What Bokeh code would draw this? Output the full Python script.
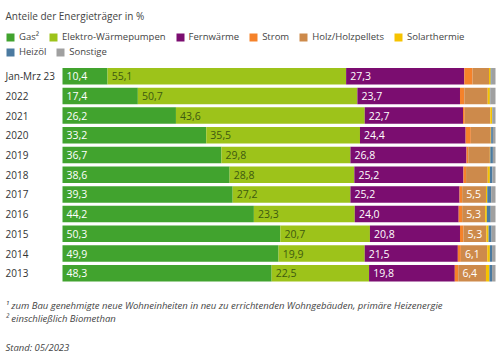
from bokeh.plotting import figure
from bokeh.models import ColumnDataSource, Range1d, Label, Legend, LegendItem
from bokeh.core.properties import value
from bokeh.embed import file_html
from bokeh.resources import INLINE

# ---------------- data ----------------
categories = ["Jan-Mrz 23", "2022", "2021", "2020", "2019", "2018",
              "2017", "2016", "2015", "2014", "2013"]
gas      = [10.4, 17.4, 26.2, 33.2, 36.7, 38.6, 39.3, 44.2, 50.3, 49.9, 48.3]
elektro  = [55.1, 50.7, 43.6, 35.5, 29.8, 28.8, 27.2, 23.3, 20.7, 19.9, 22.5]
fern     = [27.3, 23.7, 22.7, 24.4, 26.8, 25.2, 25.2, 24.0, 20.8, 21.5, 19.8]
strom    = [1.9, 1.0, 0.4, 1.2, 0.4, 0.6, 0.6, 0.8, 0.8, 0.7, 0.8]
holz     = [3.8, 5.4, 5.9, 4.6, 5.0, 5.0, 5.5, 5.3, 5.3, 6.1, 6.4]
solar    = [0.4, 0.5, 0.4, 0.1, 0.1, 0.5, 0.3, 0.4, 0.5, 0.6, 0.8]
heizoel  = [0.2, 0.1, 0.1, 0.4, 0.6, 0.6, 0.9, 0.9, 0.7, 0.5, 0.6]
sonstige = [0.9, 1.2, 0.7, 0.6, 0.6, 0.7, 1.0, 1.1, 0.9, 0.8, 0.8]
holz_labeled = [False, False, False, False, False, False, True, True, True, True, True]

series_keys = ["gas", "elektro", "fern", "strom", "holz", "solar", "heizoel", "sonstige"]
series_names = ["Gas\u00b2", "Elektro-W\u00e4rmepumpen", "Fernw\u00e4rme", "Strom",
                "Holz/Holzpellets", "Solarthermie", "Heiz\u00f6l", "Sonstige"]
series_values = [gas, elektro, fern, strom, holz, solar, heizoel, sonstige]
colors = ["#41a32e", "#9dc31a", "#7b0d70", "#f5822a", "#cd8a4b", "#f6c300", "#4b7aa0", "#a0a0a0"]

title_text = "Anteile der Energietr\u00e4ger in %"
foot1 = "\u00b9 zum Bau genehmigte neue Wohneinheiten in neu zu errichtenden Wohngeb\u00e4uden, prim\u00e4re Heizenergie"
foot2 = "\u00b2 einschlie\u00dflich Biomethan"
foot3 = "Stand: 05/2023"

# ---------------- layout ----------------
W, H = 500, 353
X0, X100 = 62.0, 495.0
ROW0, PITCH = 75.7, 19.7
ppx = (X100 - X0) / 100.0

def px_x(px):
    return (px - X0) / ppx

def px_y(py):
    return (py - ROW0) / PITCH

FONT = "Open Sans"

p = figure(width=W, height=H, title=None,
           x_range=Range1d(px_x(0), px_x(W)), y_range=Range1d(px_y(H), px_y(0)),
           x_axis_type=None, y_axis_type=None,
           output_backend="svg", toolbar_location=None,
           min_border=0, outline_line_color=None)
p.grid.visible = False
p.background_fill_color = "white"
p.border_fill_color = "white"

rows = list(range(len(categories)))
data = {"row": rows}
for k, v in zip(series_keys, series_values):
    data[k] = v
src = ColumnDataSource(data)

renderers = p.hbar_stack(series_keys, y="row", height=0.84, color=colors,
                         line_color=None, source=src)

# bar value labels
lx, ly, lt, lc = [], [], [], []
for i in rows:
    starts = [0.0]
    for v in series_values:
        starts.append(starts[-1] + v[i])
    specs = [(0, "white", True), (1, "#3d5a10", True), (2, "white", True),
             (4, "white", holz_labeled[i])]
    for si, col, show in specs:
        if show:
            lx.append(starts[si] + 0.95)
            ly.append(i)
            lt.append(f"{series_values[si][i]:.1f}".replace(".", ","))
            lc.append(col)
lsrc = ColumnDataSource(dict(x=lx, y=ly, text=lt, color=lc))
p.text(x="x", y="y", text="text", text_color="color", source=lsrc,
       text_font=value(FONT), text_font_size="10.5px",
       text_baseline="middle", text_align="left")

# category labels
csrc = ColumnDataSource(dict(x=[px_x(5)] * len(categories), y=rows, text=categories))
p.text(x="x", y="y", text="text", source=csrc, text_color="#333333",
       text_font=value(FONT), text_font_size="10px",
       text_baseline="middle", text_align="left")

# title and footnotes
p.add_layout(Label(x=px_x(5), y=px_y(15), text=title_text, text_font=FONT,
                   text_font_size="10px", text_color="#444444",
                   text_baseline="middle", text_align="left"))
for txt, yy in [(foot1, 305), (foot2, 318), (foot3, 346.5)]:
    p.add_layout(Label(x=px_x(5), y=px_y(yy), text=txt, text_font=FONT,
                       text_font_style="italic", text_font_size="9.5px",
                       text_color="#444444", text_baseline="middle", text_align="left"))

# legends (two flowing rows)
def make_legend(idx, bottom_px):
    leg = Legend(items=[LegendItem(label=series_names[i], renderers=[renderers[i]]) for i in idx],
                 orientation="horizontal", location=(5, H - bottom_px),
                 glyph_width=10, glyph_height=10, label_standoff=4, spacing=9,
                 padding=0, margin=0, label_height=12, label_width=0,
                 border_line_color=None, background_fill_alpha=0,
                 label_text_font=FONT, label_text_font_size="9.5px",
                 label_text_color="#444444")
    p.add_layout(leg)

make_legend([0, 1, 2, 3, 4, 5], 43)
make_legend([6, 7], 58)

open("out.html", "w").write(file_html(p, INLINE))
